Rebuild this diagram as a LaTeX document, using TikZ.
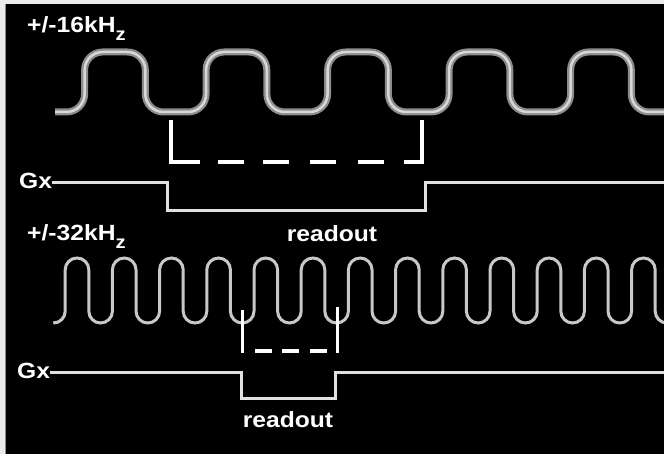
\documentclass[tikz,border=0pt]{standalone}
\usepackage{fontspec}
\setmainfont{Liberation Sans}
\usetikzlibrary{positioning}
\definecolor{trace}{RGB}{225,225,225}
\definecolor{waveedge}{RGB}{140,140,140}
\definecolor{wavecore}{RGB}{215,215,215}
\definecolor{wavethin}{RGB}{200,200,200}
\definecolor{frame}{RGB}{235,235,235}

\tikzset{
  lbl/.style={font=\bfseries\fontsize{22}{22}\selectfont, text=white, inner sep=0pt, xscale=1.12},
  gradline/.style={trace, line width=3pt},
  gate/.style={white, line width=4pt},
  slowwave/.pic={
    \draw[pic actions] (55,112) -- (66.6,112)
      \foreach \k in {1,...,5} {
        arc[start angle=90, end angle=0, radius=18] -- ++(0,-24)
        arc[start angle=180, end angle=270, radius=18] -- ++(24.75,0)
        arc[start angle=270, end angle=360, radius=18] -- ++(0,24)
        arc[start angle=180, end angle=90, radius=18] -- ++(24.75,0)
      };
  },
}

\begin{document}
\begin{tikzpicture}[x=1pt,y=-1pt]
    \useasboundingbox (0,0) rectangle (664,454);
    % Screen
    \fill[frame] (0,0) rectangle (664,454);
    \fill[black] (5,4) rectangle (664,454);
    \draw[waveedge, line width=1pt] (5.5,4) -- (5.5,454);
    % Top wave
    \pic[waveedge, line width=7pt] {slowwave};
    \pic[wavecore, line width=2.5pt] {slowwave};
    \node[lbl, anchor=base west] (freqtop) at (27,33)
      {+/-16kH\raisebox{-8pt}{\fontsize{18}{18}\selectfont z}};
    % Top readout window
    \draw[gate] (171,120) -- (171,162) -- (200,162);
    \foreach \d in {218,263,310,358}
      \draw[gate] (\d,162) -- ++(26,0);
    \draw[gate] (404,162) -- (422,162) -- (422,120);
    % Top gradient
    \node[lbl, anchor=base west] (gxtop) at (19,189) {Gx};
    \draw[gradline] (gxtop.east |- 0,183) -- (167,183) -- (167,211)
      -- (425,211) -- (425,183) -- (664,183);
    \node[lbl, anchor=base] (rdtop) at (332,242) {readout};
    % Bottom wave
    \node[lbl, anchor=base west] (freqbot) at (27,241)
      {+/-32kH\raisebox{-8pt}{\fontsize{18}{18}\selectfont z}};
    \draw[wavethin, line width=3pt] (55,323) -- (53.4,323)
      arc[start angle=90, end angle=0, radius=11.8]
      \foreach \k in {0,...,12} {
        -- ++(0,-41.4) arc[start angle=180, end angle=360, radius=11.8]
        -- ++(0,41.4) arc[start angle=180, end angle=0, radius=11.8]
      };
    % Bottom readout window
    \draw[gate, line width=3pt] (242,310) -- (242,353);
    \draw[gate, line width=3pt] (337,307) -- (337,353);
    \foreach \d in {255,282,310}
      \draw[gate] (\d,351) -- ++(17,0);
    % Bottom gradient
    \node[lbl, anchor=base west] (gxbot) at (17,378) {Gx};
    \draw[gradline] (gxbot.east |- 0,372) -- (241,372) -- (241,398)
      -- (335,398) -- (335,372) -- (664,372);
    \node[lbl, anchor=base] (rdbot) at (288,427) {readout};
  \end{tikzpicture}
\end{document}
